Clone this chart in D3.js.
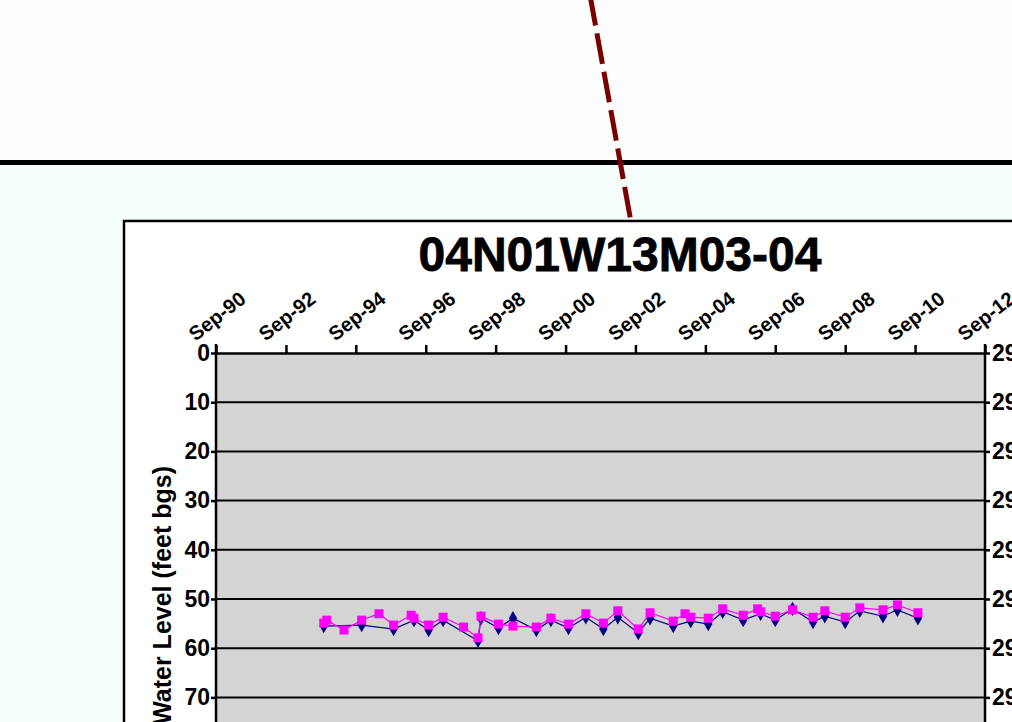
<!DOCTYPE html>
<meta charset="utf-8">
<style>
html, body {
  margin: 0;
  overflow: hidden;
  width: 100%;
  height: 100%;
  background: #fdfdfd;
}
text {
  font-family: "Liberation Sans", Arial, sans-serif;
  font-weight: bold;
}
.num text {
  font-family: "Liberation Sans Narrow", "Arial Narrow", "Liberation Sans", sans-serif;
  font-size: 23px;
  fill: #000;
}
</style>
<title>04N01W13M03-04</title>
<body>
<script src="https://d3js.org/d3.v7.min.js"></script>
<script>
// hydrograph values (feet below ground surface)
var pinkDates = ["1993-10","1993-11","1994-05","1994-11","1995-05","1995-10","1996-04","1996-05",
  "1996-10","1997-03","1997-10","1998-03","1998-04","1998-10","1999-03","1999-11","2000-04",
  "2000-10","2001-04","2001-10","2002-03","2002-10","2003-02","2003-10","2004-02","2004-04",
  "2004-10","2005-03","2005-10","2006-03","2006-04","2006-09","2007-03","2007-10","2008-02",
  "2008-09","2009-02","2009-10","2010-03","2010-10"];
var pinkLevels = [54.9,54.3,56.3,54.3,53.0,55.3,53.3,53.9,
  55.3,53.7,55.7,57.9,53.5,55.1,55.5,55.7,53.9,
  55.1,53.0,54.9,52.4,56.1,52.8,54.5,53.0,53.7,
  53.9,52.0,53.3,52.0,52.6,53.5,52.2,53.7,52.4,
  53.7,51.8,52.2,51.2,52.8];

var navyDates = ["1993-10","1994-11","1995-10","1996-05","1996-10","1997-03","1998-03","1998-04",
  "1998-10","1999-03","1999-11","2000-04","2000-10","2001-04","2001-10","2002-03","2002-10",
  "2003-02","2003-10","2004-04","2004-10","2005-03","2005-10","2006-04","2006-09","2007-03",
  "2007-10","2008-02","2008-09","2009-02","2009-10","2010-03","2010-10"];
var navyLevels = [55.5,55.3,56.1,54.3,56.3,54.3,58.5,53.9,
  55.9,53.9,56.3,54.3,55.9,53.7,56.1,53.7,56.9,
  53.9,55.5,54.5,55.1,52.6,54.3,53.0,54.3,52.0,
  54.7,53.5,54.7,52.4,53.5,52.2,53.9];

var tickYears = [1990,1992,1994,1996,1998,2000,2002,2004,2006,2008,2010,2012];
var depthTicks = [0,10,20,30,40,50,60,70,80,90,100];
var elevTop = 2990; // right axis label at 0 ft bgs

var width = 1012,
    height = 722;

var parse = d3.timeParse("%Y-%m");
var pink = pinkDates.map(function(d, i) { return {date: parse(d), v: pinkLevels[i]}; });
var navy = navyDates.map(function(d, i) { return {date: parse(d), v: navyLevels[i]}; });

var svg = d3.select("body").append("svg")
    .attr("width", width)
    .attr("height", height);

// map page behind the chart
svg.append("rect").attr("x", 0).attr("y", 0).attr("width", width).attr("height", 162).attr("fill", "#fdfdfd");
svg.append("rect").attr("x", 0).attr("y", 162).attr("width", width).attr("height", height - 162).attr("fill", "#f4fcfc");
svg.append("rect").attr("x", 0).attr("y", 160).attr("width", width).attr("height", 5).attr("fill", "#000");
svg.append("line")
    .attr("x1", 590).attr("y1", -5).attr("x2", 631).attr("y2", 222)
    .attr("stroke", "#7a0000")
    .attr("stroke-width", 5)
    .attr("stroke-dasharray", "31,8");

// chart box
svg.append("rect")
    .attr("x", 124).attr("y", 221)
    .attr("width", 950).attr("height", 600)
    .attr("fill", "#fff")
    .attr("stroke", "#000")
    .attr("stroke-width", 2.5);

svg.append("text")
    .attr("x", 620).attr("y", 271)
    .attr("text-anchor", "middle")
    .attr("font-size", 48)
    .attr("stroke", "#000")
    .attr("stroke-width", 0.8)
    .text("04N01W13M03-04");

var x = d3.scaleTime()
    .domain([new Date(1990, 8, 1), new Date(2012, 8, 1)])
    .range([216, 985]);

var y = d3.scaleLinear()
    .domain([0, 100])
    .range([353, 845]);

// plot area
svg.append("rect")
    .attr("x", x.range()[0]).attr("y", y(0))
    .attr("width", x.range()[1] - x.range()[0])
    .attr("height", y(100) - y(0))
    .attr("fill", "#d4d4d4");

svg.selectAll(".grid").data(depthTicks.slice(1))
  .enter().append("line")
    .attr("class", "grid")
    .attr("x1", x.range()[0]).attr("x2", x.range()[1])
    .attr("y1", function(d) { return y(d); })
    .attr("y2", function(d) { return y(d); })
    .attr("stroke", "#000")
    .attr("stroke-width", 2);

// top date axis, labels drawn tilted
var tickDates = tickYears.map(function(yr) { return new Date(yr, 8, 1); });
var fmt = d3.timeFormat("%b-%y");

var topAxis = svg.append("g")
    .attr("transform", "translate(0," + y(0) + ")")
    .call(d3.axisTop(x).tickValues(tickDates).tickSize(8).tickSizeOuter(0).tickFormat(""));
topAxis.selectAll("path, line").attr("stroke", "#000").attr("stroke-width", 2.5);

svg.selectAll(".xlab").data(tickDates)
  .enter().append("text")
    .attr("class", "xlab")
    .attr("transform", function(d) { return "translate(" + (x(d) + 1) + ",316) rotate(-38)"; })
    .attr("text-anchor", "middle")
    .attr("dy", "0.35em")
    .attr("font-size", 20)
    .text(fmt);

// left depth axis
var leftAxis = svg.append("g")
    .attr("class", "num")
    .attr("transform", "translate(" + x.range()[0] + ",0)")
    .call(d3.axisLeft(y).tickValues(depthTicks).tickSize(5).tickPadding(1).tickSizeOuter(0));
leftAxis.selectAll("path, line").attr("stroke", "#000").attr("stroke-width", 2.5);
leftAxis.select(".domain").attr("d", "M0," + (y(0) - 9) + "V" + y(100));

// right elevation axis
var rightAxis = svg.append("g")
    .attr("class", "num")
    .attr("transform", "translate(" + x.range()[1] + ",0)")
    .call(d3.axisRight(y).tickValues(depthTicks).tickSize(5).tickPadding(2).tickSizeOuter(0)
      .tickFormat(function(d) { return elevTop - d; }));
rightAxis.selectAll("path, line").attr("stroke", "#000").attr("stroke-width", 2.5);
rightAxis.select(".domain").attr("d", "M0," + (y(0) - 9) + "V" + y(100));

svg.append("text")
    .attr("transform", "translate(171,466) rotate(-90)")
    .attr("text-anchor", "end")
    .attr("font-size", 25)
    .text("Water Level (feet bgs)");

// series
var line = d3.line()
    .x(function(d) { return x(d.date); })
    .y(function(d) { return y(d.v); });

svg.append("path")
    .datum(navy)
    .attr("d", line)
    .attr("fill", "none")
    .attr("stroke", "#000080")
    .attr("stroke-width", 1.2);

svg.selectAll(".dia").data(navy)
  .enter().append("path")
    .attr("class", "dia")
    .attr("d", d3.symbol().type(d3.symbolDiamond).size(60))
    .attr("transform", function(d) { return "translate(" + x(d.date) + "," + y(d.v) + ")"; })
    .attr("fill", "#000080");

svg.append("path")
    .datum(pink)
    .attr("d", line)
    .attr("fill", "none")
    .attr("stroke", "#ff00ff")
    .attr("stroke-width", 1.2);

svg.selectAll(".sq").data(pink)
  .enter().append("rect")
    .attr("class", "sq")
    .attr("x", function(d) { return x(d.date) - 4.5; })
    .attr("y", function(d) { return y(d.v) - 4.5; })
    .attr("width", 9)
    .attr("height", 9)
    .attr("fill", "#ff00ff");
</script>
</body>
